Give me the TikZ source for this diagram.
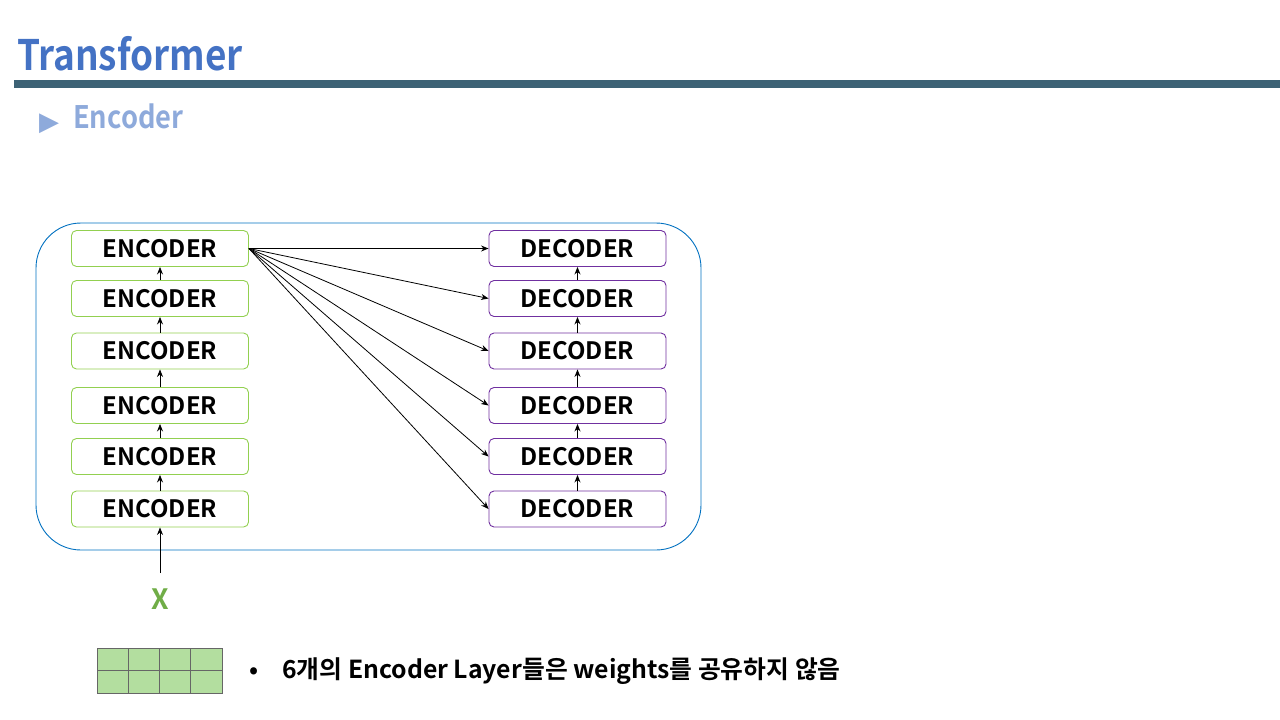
\documentclass[tikz,border=0pt]{standalone}
\usepackage{fontspec}
\setmainfont{Noto Sans CJK KR}[BoldFont={* Bold}]
\newfontfamily\kr{Noto Sans CJK KR Bold}
\newfontfamily\krn{Noto Sans CJK KR Bold}[FakeStretch=0.88]
\newfontfamily\sym{DejaVu Sans}
\usetikzlibrary{arrows.meta}
\definecolor{titleblue}{HTML}{4472C4}
\definecolor{subblue}{HTML}{8EAADB}
\definecolor{rulecol}{HTML}{3D6275}
\definecolor{encgreen}{HTML}{92D050}
\definecolor{decpurple}{HTML}{7030A0}
\definecolor{outerblue}{HTML}{0070C0}
\definecolor{xgreen}{HTML}{70AD47}
\definecolor{cellgreen}{HTML}{B3DE9F}
\tikzset{
  layerbox/.style={draw, line width=0.9pt, rounded corners=5pt, minimum width=177pt, minimum height=36pt, inner sep=0pt, font=\kr\fontsize{24}{24}\selectfont},
  encbox/.style={layerbox, draw=encgreen},
  decbox/.style={layerbox, draw=decpurple},
  arr/.style={-{Stealth[length=7.5pt,width=6pt]}, line width=0.8pt, black},
  gridline/.style={black!60, line width=1pt},
}
\begin{document}
\begin{tikzpicture}[x=1pt,y=-1pt]
\useasboundingbox (0,0) rectangle (1280,720);
% title
\node[anchor=base west, inner sep=0pt, text=titleblue, font=\krn\fontsize{42}{42}\selectfont] (title) at (17,70) {Transformer};
\fill[rulecol] (14,80) rectangle (1280,88);
\node[anchor=base west, inner sep=0pt, text=subblue, font=\sym\fontsize{26}{26}\selectfont] (tri) at (39,130) {▶};
\node[anchor=base west, inner sep=0pt, text=subblue, font=\krn\fontsize{31}{31}\selectfont] (sub) at (73,128) {Encoder};
% outer
\draw[outerblue, line width=0.9pt, rounded corners=45pt] (36,223) rectangle (701,550);
% boxes
\foreach \i/\y in {1/248.5,2/298.5,3/351,4/405.5,5/456.5,6/509}{
  \node[encbox] (e\i) at (160,\y) {\raisebox{-1.5pt}{ENCODER}};
  \node[decbox] (d\i) at (577.5,\y) {\raisebox{-1.5pt}{DECODER}};
}
\foreach \a/\b in {6/5,5/4,4/3,3/2,2/1}{
  \draw[arr] (e\a.north) -- (e\b.south);
  \draw[arr] (d\a.north) -- (d\b.south);
}
\foreach \i in {1,...,6}{
  \draw[arr] (e1.east) -- (d\i.west);
}
% x input
\node[inner sep=0pt, text=xgreen, font=\kr\fontsize{28}{28}\selectfont, anchor=base] (x) at (160,609) {X};
\coordinate (xs) at (160,573);
\draw[arr] (xs) -- (e6.south);
% grid
\fill[cellgreen] (97,648) rectangle (222,693);
\foreach \gx in {128.25,159.5,190.75}{\draw[gridline] (\gx,648) -- (\gx,693);}
\draw[gridline] (97,670.5) -- (222,670.5);
\draw[gridline] (97,648) rectangle (222,693);
% bullet text
\node[anchor=base west, inner sep=0pt, font=\kr\fontsize{24}{24}\selectfont] (bul) at (249,678) {•};
\node[anchor=base west, inner sep=0pt, font=\kr\fontsize{24.8}{24.8}\selectfont] (txt) at (282,678) {6개의 Encoder Layer들은 weights를 공유하지 않음};
\end{tikzpicture}
\end{document}
